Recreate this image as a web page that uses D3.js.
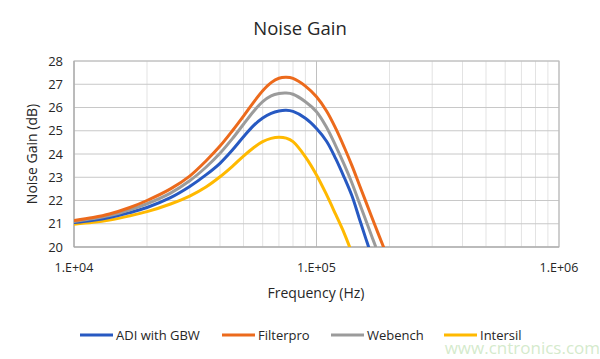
<!DOCTYPE html>
<html><head><meta charset="utf-8">
<script src="https://cdn.jsdelivr.net/npm/d3@7"></script>
<style>body{margin:0;background:#fff}svg{display:block}text{font-family:"Open Sans","Noto Sans",sans-serif}</style>
</head><body>
<svg id="c" width="600" height="359"></svg>
<script>
const seriesNames = ["ADI with GBW", "Filterpro", "Webench", "Intersil"];
const adiFreq = [10000,12000,14000,17000,20000,25000,30000,35000,40000,45000,50000,55000,60000,65000,70000,75000,80000,90000,100000,110000,120000,130000,140000,150000,160000,165000];
const adiGain = [21.05,21.15,21.27,21.48,21.7,22.12,22.6,23.1,23.6,24.17,24.74,25.22,25.55,25.75,25.85,25.88,25.83,25.54,25.1,24.55,23.8,23.0,22.2,21.24,20.34,19.92];
const filterproFreq = [10000,12000,14000,17000,20000,25000,30000,35000,40000,45000,50000,55000,60000,65000,70000,75000,80000,90000,100000,110000,120000,130000,140000,150000,160000,175000,189000];
const filterproGain = [21.14,21.27,21.42,21.7,22.0,22.5,23.05,23.7,24.34,25.0,25.63,26.22,26.72,27.07,27.26,27.3,27.25,26.92,26.46,25.85,25.1,24.3,23.5,22.69,21.93,20.88,20.0];
const webenchFreq = [10000,12000,14000,17000,20000,25000,30000,35000,40000,45000,50000,55000,60000,65000,70000,75000,80000,90000,100000,110000,120000,130000,140000,150000,160000,170000,175000];
const webenchGain = [21.1,21.22,21.35,21.6,21.86,22.32,22.85,23.43,24.03,24.66,25.28,25.83,26.25,26.5,26.6,26.62,26.57,26.25,25.82,25.15,24.35,23.55,22.75,21.91,21.13,20.39,20.04];
const intersilFreq = [10000,12000,14000,17000,20000,25000,30000,35000,40000,45000,50000,55000,60000,65000,70000,75000,80000,90000,100000,110000,120000,130000,137000];
const intersilGain = [20.98,21.06,21.16,21.34,21.52,21.85,22.19,22.58,23.02,23.47,23.91,24.27,24.53,24.67,24.72,24.68,24.53,23.88,23.1,22.25,21.4,20.6,20.0];
const yTicks = [20,21,22,23,24,25,26,27,28];
const xTicks = [1e4,1e5,1e6];
const xTickLabels = ["1.E+04","1.E+05","1.E+06"];
const colors = ["#2759c2","#ec6a1c","#9b9b9b","#ffb900"];

const series = [
  {name: seriesNames[0], f: adiFreq, g: adiGain},
  {name: seriesNames[1], f: filterproFreq, g: filterproGain},
  {name: seriesNames[2], f: webenchFreq, g: webenchGain},
  {name: seriesNames[3], f: intersilFreq, g: intersilGain}
];

const svg = d3.select("#c");
const L = 74, R = 559, T = 61, B = 247;
const x = d3.scaleLog().domain([1e4,1e6]).range([L,R]);
const y = d3.scaleLinear().domain([20,28]).range([B,T]);

// minor vertical grid
const minor = [];
for (let d = 1e4; d < 1e6; d *= 10) for (let k = 2; k <= 9; k++) minor.push(d*k);
svg.append("g").selectAll("line").data(minor).join("line")
  .attr("x1", d => x(d)).attr("x2", d => x(d)).attr("y1", T).attr("y2", B)
  .attr("stroke", "#e3e3e3").attr("stroke-width", 1);
// horizontal grid
svg.append("g").selectAll("line").data(yTicks).join("line")
  .attr("x1", L).attr("x2", R).attr("y1", d => y(d)).attr("y2", d => y(d))
  .attr("stroke", "#c8c8c8").attr("stroke-width", 1);
// major vertical
svg.append("g").selectAll("line").data(xTicks).join("line")
  .attr("x1", d => x(d)).attr("x2", d => x(d)).attr("y1", T).attr("y2", B)
  .attr("stroke", "#c0c0c0").attr("stroke-width", 1);
svg.append("rect").attr("x", L).attr("y", T).attr("width", R-L).attr("height", B-T)
  .attr("fill", "none").attr("stroke", "#bdbdbd").attr("stroke-width", 1);
svg.append("line").attr("x1", L).attr("x2", R).attr("y1", B).attr("y2", B).attr("stroke", "#a6a6a6");
svg.append("line").attr("x1", L).attr("x2", L).attr("y1", T).attr("y2", B).attr("stroke", "#a6a6a6");

// clip
svg.append("clipPath").attr("id","clip").append("rect")
  .attr("x", L).attr("y", T-5).attr("width", R-L).attr("height", B-T+5);

const line = d3.line().curve(d3.curveCatmullRom.alpha(0.5)).x(d => x(d[0])).y(d => y(d[1]));
const order = [3,0,2,1];
svg.append("g").attr("clip-path","url(#clip)").selectAll("path").data(order).join("path")
  .attr("d", i => line(series[i].f.map((f,j) => [f, series[i].g[j]])))
  .attr("fill","none").attr("stroke", i => colors[i]).attr("stroke-width", 3)
  .attr("stroke-linecap","round").attr("stroke-linejoin","round");

// y tick labels
svg.append("g").selectAll("text").data(yTicks).join("text")
  .attr("x", 63).attr("y", d => y(d)).attr("dy","0.35em").attr("text-anchor","end")
  .attr("font-size", 13).attr("fill","#262626").text(d => d);
// x tick labels
svg.append("g").selectAll("text").data(xTicks).join("text")
  .attr("x", d => x(d)).attr("y", 272).attr("text-anchor","middle")
  .attr("font-size", 12.5).attr("fill","#262626").text((d,i) => xTickLabels[i]);

svg.append("text").attr("x", 300).attr("y", 35).attr("text-anchor","middle")
  .attr("font-size", 18.5).attr("fill","#262626").text("Noise Gain");
svg.append("text").attr("x", 316).attr("y", 298).attr("text-anchor","middle")
  .attr("font-size", 14).attr("fill","#262626").text("Frequency (Hz)");
svg.append("text").attr("transform","translate(37,154) rotate(-90)").attr("text-anchor","middle")
  .attr("font-size", 14).attr("fill","#262626").text("Noise Gain (dB)");

// legend
const legX = [80, 222, 331, 444];
const lg = svg.append("g").selectAll("g").data(series).join("g")
  .attr("transform", (d,i) => `translate(${legX[i]},335)`);
lg.append("line").attr("x1",0).attr("x2",33).attr("y1",0).attr("y2",0)
  .attr("stroke",(d,i)=>colors[i]).attr("stroke-width",3);
lg.append("text").attr("x",36).attr("dy","0.35em").attr("font-size",13).attr("fill","#262626").text(d=>d.name);

svg.append("text").attr("x", 600).attr("y", 354).attr("text-anchor","end")
  .attr("font-size", 17).attr("fill","#cfe8c6").attr("fill-opacity",0.9).text("www.cntronics.com");
</script>
</body></html>
